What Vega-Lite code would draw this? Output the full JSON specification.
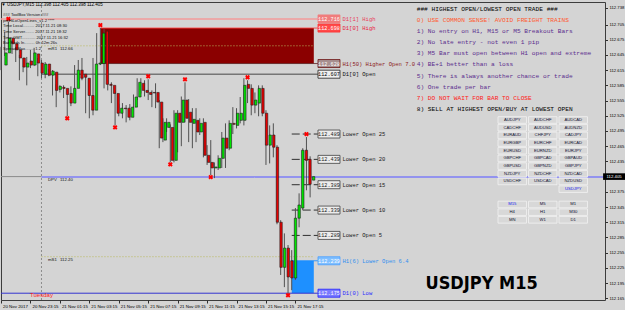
{
"$schema":"https://vega.github.io/schema/vega-lite/v6.json",
"width":604,"height":298,
"autosize":{"type":"none"},
"padding":{"left":1,"top":2,"right":20,"bottom":10},
"background":"#d4d4d4",
"config":{"view":{"stroke":"#3c3c3c","strokeWidth":1},"text":{"font":"Liberation Sans"}},
"title":{"text":"▼ USDJPY,M15  112.398 112.405 112.398 112.405","anchor":"start","orient":"top","offset":-8,"fontSize":4.5,"fontWeight":"normal","font":"Liberation Sans","color":"#000000","baseline":"middle","dx":1},
"datasets":{
"candles":[
{"i":0,"o":112.625,"h":112.661,"l":112.615,"c":112.649},
{"i":1,"o":112.649,"h":112.690,"l":112.643,"c":112.678},
{"i":2,"o":112.678,"h":112.710,"l":112.659,"c":112.667},
{"i":3,"o":112.667,"h":112.674,"l":112.647,"c":112.655},
{"i":4,"o":112.655,"h":112.661,"l":112.631,"c":112.639},
{"i":5,"o":112.639,"h":112.645,"l":112.595,"c":112.621},
{"i":6,"o":112.621,"h":112.639,"l":112.611,"c":112.629},
{"i":7,"o":112.633,"h":112.641,"l":112.585,"c":112.625},
{"i":8,"o":112.625,"h":112.655,"l":112.619,"c":112.649},
{"i":9,"o":112.647,"h":112.659,"l":112.623,"c":112.629},
{"i":10,"o":112.629,"h":112.639,"l":112.603,"c":112.609},
{"i":11,"o":112.607,"h":112.635,"l":112.599,"c":112.627},
{"i":12,"o":112.627,"h":112.631,"l":112.599,"c":112.605},
{"i":13,"o":112.605,"h":112.617,"l":112.603,"c":112.613},
{"i":14,"o":112.611,"h":112.615,"l":112.565,"c":112.575},
{"i":15,"o":112.577,"h":112.587,"l":112.542,"c":112.583},
{"i":16,"o":112.581,"h":112.585,"l":112.571,"c":112.579},
{"i":17,"o":112.579,"h":112.585,"l":112.560,"c":112.567},
{"i":18,"o":112.569,"h":112.575,"l":112.524,"c":112.550},
{"i":19,"o":112.550,"h":112.583,"l":112.544,"c":112.579},
{"i":20,"o":112.579,"h":112.625,"l":112.575,"c":112.615},
{"i":21,"o":112.615,"h":112.635,"l":112.595,"c":112.599},
{"i":22,"o":112.607,"h":112.639,"l":112.595,"c":112.601},
{"i":23,"o":112.599,"h":112.603,"l":112.530,"c":112.565},
{"i":24,"o":112.565,"h":112.575,"l":112.520,"c":112.536},
{"i":25,"o":112.536,"h":112.639,"l":112.526,"c":112.627},
{"i":26,"o":112.627,"h":112.688,"l":112.615,"c":112.629},
{"i":27,"o":112.628,"h":112.698,"l":112.625,"c":112.688},
{"i":28,"o":112.692,"h":112.696,"l":112.579,"c":112.587},
{"i":29,"o":112.587,"h":112.595,"l":112.575,"c":112.585},
{"i":30,"o":112.585,"h":112.591,"l":112.550,"c":112.569},
{"i":31,"o":112.569,"h":112.575,"l":112.506,"c":112.530},
{"i":32,"o":112.530,"h":112.548,"l":112.524,"c":112.540},
{"i":33,"o":112.540,"h":112.550,"l":112.520,"c":112.539},
{"i":34,"o":112.540,"h":112.546,"l":112.512,"c":112.522},
{"i":35,"o":112.522,"h":112.548,"l":112.516,"c":112.542},
{"i":36,"o":112.542,"h":112.567,"l":112.536,"c":112.562},
{"i":37,"o":112.562,"h":112.599,"l":112.556,"c":112.591},
{"i":38,"o":112.589,"h":112.599,"l":112.569,"c":112.575},
{"i":39,"o":112.575,"h":112.595,"l":112.563,"c":112.571},
{"i":40,"o":112.571,"h":112.597,"l":112.556,"c":112.567},
{"i":41,"o":112.571,"h":112.575,"l":112.542,"c":112.570},
{"i":42,"o":112.571,"h":112.589,"l":112.540,"c":112.552},
{"i":43,"o":112.552,"h":112.556,"l":112.461,"c":112.481},
{"i":44,"o":112.477,"h":112.520,"l":112.473,"c":112.512},
{"i":45,"o":112.502,"h":112.520,"l":112.493,"c":112.512},
{"i":46,"o":112.502,"h":112.508,"l":112.433,"c":112.437},
{"i":47,"o":112.437,"h":112.536,"l":112.433,"c":112.530},
{"i":48,"o":112.530,"h":112.536,"l":112.453,"c":112.512},
{"i":49,"o":112.512,"h":112.563,"l":112.465,"c":112.556},
{"i":50,"o":112.556,"h":112.591,"l":112.512,"c":112.520},
{"i":51,"o":112.532,"h":112.558,"l":112.473,"c":112.512},
{"i":52,"o":112.510,"h":112.540,"l":112.461,"c":112.518},
{"i":53,"o":112.516,"h":112.540,"l":112.473,"c":112.493},
{"i":54,"o":112.493,"h":112.520,"l":112.487,"c":112.510},
{"i":55,"o":112.512,"h":112.520,"l":112.443,"c":112.447},
{"i":56,"o":112.447,"h":112.467,"l":112.428,"c":112.433},
{"i":57,"o":112.433,"h":112.477,"l":112.408,"c":112.422},
{"i":58,"o":112.422,"h":112.433,"l":112.402,"c":112.424},
{"i":59,"o":112.422,"h":112.447,"l":112.418,"c":112.441},
{"i":60,"o":112.441,"h":112.493,"l":112.422,"c":112.481},
{"i":61,"o":112.481,"h":112.510,"l":112.422,"c":112.461},
{"i":62,"o":112.461,"h":112.516,"l":112.457,"c":112.510},
{"i":63,"o":112.510,"h":112.542,"l":112.489,"c":112.508},
{"i":64,"o":112.506,"h":112.540,"l":112.500,"c":112.530},
{"i":65,"o":112.516,"h":112.562,"l":112.510,"c":112.530},
{"i":66,"o":112.516,"h":112.599,"l":112.506,"c":112.585},
{"i":67,"o":112.587,"h":112.595,"l":112.550,"c":112.579},
{"i":68,"o":112.579,"h":112.587,"l":112.526,"c":112.546},
{"i":69,"o":112.546,"h":112.571,"l":112.530,"c":112.556},
{"i":70,"o":112.550,"h":112.585,"l":112.524,"c":112.579},
{"i":71,"o":112.579,"h":112.585,"l":112.524,"c":112.530},
{"i":72,"o":112.530,"h":112.536,"l":112.428,"c":112.467},
{"i":73,"o":112.467,"h":112.506,"l":112.431,"c":112.487},
{"i":74,"o":112.487,"h":112.510,"l":112.443,"c":112.463},
{"i":75,"o":112.463,"h":112.467,"l":112.311,"c":112.315},
{"i":76,"o":112.315,"h":112.319,"l":112.211,"c":112.226},
{"i":77,"o":112.226,"h":112.293,"l":112.187,"c":112.264},
{"i":78,"o":112.264,"h":112.270,"l":112.175,"c":112.207},
{"i":79,"o":112.239,"h":112.260,"l":112.181,"c":112.205},
{"i":80,"o":112.205,"h":112.343,"l":112.201,"c":112.323},
{"i":81,"o":112.323,"h":112.372,"l":112.305,"c":112.349},
{"i":82,"o":112.343,"h":112.461,"l":112.339,"c":112.457},
{"i":83,"o":112.457,"h":112.483,"l":112.378,"c":112.437},
{"i":84,"o":112.439,"h":112.445,"l":112.364,"c":112.390},
{"i":85,"o":112.398,"h":112.405,"l":112.398,"c":112.405}
],
"fractals":[
{"i":2,"p":112.710,"t":"up"},{"i":18,"p":112.524,"t":"dn"},{"i":27,"p":112.698,"t":"up"},{"i":31,"p":112.506,"t":"dn"},
{"i":40,"p":112.597,"t":"up"},{"i":46,"p":112.433,"t":"dn"},{"i":50,"p":112.591,"t":"up"},{"i":57,"p":112.408,"t":"dn"},
{"i":67,"p":112.595,"t":"up"},{"i":78,"p":112.175,"t":"dn"},{"i":83,"p":112.483,"t":"up"}
],
"zones":[{"z":"hi","from":27,"to":85,"lo":112.628,"hi":112.698},{"z":"lo","from":79,"to":85,"lo":112.175,"hi":112.239}],
"segments":[
{"k":"dpvPrev","name":"","p":112.405,"from":0,"to":11},
{"k":"dpv","name":"DPV","p":112.404,"from":11,"to":164.13},
{"k":"mR1","name":"mR1","p":112.663,"from":11,"to":85},
{"k":"mS1","name":"mS1","p":112.247,"from":11,"to":85}
],
"levels":[
{"k":"d1h1","p":112.716,"from":0,"label":"D1[1] High"},
{"k":"d1h0","p":112.698,"from":27,"label":"D1[0] High"},
{"k":"h1hi","p":112.628,"from":27,"label":"H1(50) Higher Open 7.0"},
{"k":"d1o","p":112.607,"from":11,"label":"D1[0] Open"},
{"k":"lo25","p":112.489,"from":79,"label":"Lower Open 25"},
{"k":"lo20","p":112.439,"from":79,"label":"Lower Open 20"},
{"k":"lo15","p":112.389,"from":79,"label":"Lower Open 15"},
{"k":"lo10","p":112.339,"from":79,"label":"Lower Open 10"},
{"k":"lo5","p":112.289,"from":79,"label":"Lower Open 5"},
{"k":"h1lo","p":112.239,"from":79,"label":"H1(6) Lower Open 6.4"},
{"k":"d1l","p":112.175,"from":0,"label":"D1(0) Low"}
],
"rules":[
{"n":0,"text":"### HIGHEST OPEN/LOWEST OPEN TRADE ###","kind":"head"},
{"n":1,"text":"0) USE COMMON SENSE!  AVOID FREIGHT TRAINS","kind":"warn"},
{"n":2,"text":"1) No entry on H1, M15 or M5 Breakout Bars","kind":"rule"},
{"n":3,"text":"2) No late entry - not even 1 pip","kind":"rule"},
{"n":4,"text":"3) M5 Bar must open between H1 open and extreme","kind":"rule"},
{"n":5,"text":"4) BE+1 better than a loss","kind":"rule"},
{"n":6,"text":"5) There is always another chance or trade","kind":"rule"},
{"n":7,"text":"6) One trade per bar","kind":"rule"},
{"n":8,"text":"7) DO NOT WAIT FOR BAR TO CLOSE","kind":"alert"},
{"n":9,"text":"8) SELL AT HIGHEST OPEN/BUY AT LOWEST OPEN","kind":"head"}
],
"info":[
{"n":0,"text":"### ToolBox Version ###"},
{"n":1,"text":"pmHiLoOpenLines_v1.2 ****"},
{"n":2,"text":"Time Local.......... 2017.11.21 08:30"},
{"n":3,"text":"Time Server........ 2017.11.21 18:32"},
{"n":4,"text":"Time GMT............ 2017.11.21 16:32"},
{"n":5,"text":"Bar Ends In......... 0h 12m 26s"},
{"n":6,"text":"Spread Max........ 1.2"}
],
"buttons":[
{"label":"AUDJPY","col":1,"row":0,"sel":false},{"label":"AUDCHF","col":2,"row":0,"sel":false},{"label":"AUDCAD","col":3,"row":0,"sel":false},
{"label":"CADCHF","col":1,"row":1,"sel":false},{"label":"AUDUSD","col":2,"row":1,"sel":false},{"label":"AUDNZD","col":3,"row":1,"sel":false},
{"label":"EURAUD","col":1,"row":2,"sel":false},{"label":"CHFJPY","col":2,"row":2,"sel":false},{"label":"CADJPY","col":3,"row":2,"sel":false},
{"label":"EURGBP","col":1,"row":3,"sel":false},{"label":"EURCHF","col":2,"row":3,"sel":false},{"label":"EURCAD","col":3,"row":3,"sel":false},
{"label":"EURUSD","col":1,"row":4,"sel":false},{"label":"EURNZD","col":2,"row":4,"sel":false},{"label":"EURJPY","col":3,"row":4,"sel":false},
{"label":"GBPCHF","col":1,"row":5,"sel":false},{"label":"GBPCAD","col":2,"row":5,"sel":false},{"label":"GBPAUD","col":3,"row":5,"sel":false},
{"label":"GBPUSD","col":1,"row":6,"sel":false},{"label":"GBPNZD","col":2,"row":6,"sel":false},{"label":"GBPJPY","col":3,"row":6,"sel":false},
{"label":"NZDJPY","col":1,"row":7,"sel":false},{"label":"NZDCHF","col":2,"row":7,"sel":false},{"label":"NZDCAD","col":3,"row":7,"sel":false},
{"label":"USDCHF","col":1,"row":8,"sel":false},{"label":"USDCAD","col":2,"row":8,"sel":false},{"label":"NZDUSD","col":3,"row":8,"sel":false},
{"label":"USDJPY","col":3,"row":9,"sel":true},
{"label":"M15","col":1,"row":11,"sel":true},{"label":"M5","col":2,"row":11,"sel":false},{"label":"M1","col":3,"row":11,"sel":false},
{"label":"H4","col":1,"row":12,"sel":false},{"label":"H1","col":2,"row":12,"sel":false},{"label":"M30","col":3,"row":12,"sel":false},
{"label":"MN","col":1,"row":13,"sel":false},{"label":"W1","col":2,"row":13,"sel":false},{"label":"D1","col":3,"row":13,"sel":false}
]
},
"layer":[
{"data":{"values":[{}]},"mark":{"type":"rule","stroke":"#8c8c8c","strokeDash":[2,2],"strokeWidth":1},
 "encoding":{"x":{"datum":11,"type":"quantitative","scale":{"domain":[0,164.13],"nice":false,"zero":false},"axis":null}}},
{"data":{"name":"zones"},"mark":{"type":"rect"},
 "encoding":{"x":{"field":"from","type":"quantitative","scale":{"domain":[0,164.13],"nice":false,"zero":false},"axis":null},"x2":{"field":"to"},
 "y":{"field":"lo","type":"quantitative","scale":{"domain":[112.1616,112.7494],"nice":false,"zero":false},"axis":null},"y2":{"field":"hi"},
 "fill":{"field":"z","type":"nominal","scale":{"domain":["hi","lo"],"range":["#8b0000","#1e90ff"]},"legend":null}}},
{"data":{"name":"segments"},"mark":{"type":"rule"},
 "encoding":{"x":{"field":"from","type":"quantitative","scale":{"domain":[0,164.13],"nice":false,"zero":false},"axis":null},"x2":{"field":"to"},
 "y":{"field":"p","type":"quantitative","scale":{"domain":[112.1616,112.7494],"nice":false,"zero":false},"axis":null},
 "stroke":{"field":"k","type":"nominal","scale":{"domain":["dpvPrev","dpv","mR1","mS1"],"range":["#8a8a8a","#9393ee","#b8b85c","#b8b85c"]},"legend":null},
 "strokeWidth":{"condition":{"test":"datum.k==='dpv'","value":2},"value":1},
 "strokeDash":{"condition":{"test":"datum.k==='mR1'||datum.k==='mS1'","value":[1,2]},"value":[1,0]}}},
{"data":{"name":"levels"},"mark":{"type":"rule"},
 "encoding":{"x":{"field":"from","type":"quantitative","scale":{"domain":[0,164.13],"nice":false,"zero":false},"axis":null},"x2":{"datum":86.1},
 "y":{"field":"p","type":"quantitative","scale":{"domain":[112.1616,112.7494],"nice":false,"zero":false},"axis":null},
 "stroke":{"field":"k","type":"nominal","scale":{"domain":["d1h1","d1h0","h1hi","d1o","lo25","lo20","lo15","lo10","lo5","h1lo","d1l"],"range":["#f29a9a","#ff4040","#5a2020","#303030","#303030","#303030","#303030","#303030","#303030","#1e90ff","#3535d0"]},"legend":null},
 "strokeWidth":{"condition":{"test":"datum.k==='d1h1'","value":1.5},"value":1},
 "strokeDash":{"condition":{"test":"indexof(datum.k,'lo')===0","value":[8,3]},"value":[1,0]}}},
{"data":{"name":"candles"},"mark":{"type":"rule","stroke":"#505050","strokeWidth":1},
 "encoding":{"x":{"field":"i","type":"quantitative","scale":{"domain":[0,164.13],"nice":false,"zero":false},
   "axis":{"orient":"bottom","values":[0,8,16,24,32,40,48,56,64,72,80],"labelExpr":"['20 Nov 2017','20 Nov 23:15','21 Nov 01:15','21 Nov 03:15','21 Nov 05:15','21 Nov 07:15','21 Nov 09:15','21 Nov 11:15','21 Nov 13:15','21 Nov 15:15','21 Nov 17:15'][round(datum.value/8)]","labelAlign":"left","labelOffset":1.5,"labelPadding":1,"labelFontSize":4.4,"labelFont":"Liberation Sans","labelColor":"#000000","tickSize":3,"tickColor":"#303030","domain":false,"grid":false,"title":null,"labelBound":false,"labelOverlap":false,"labelFlush":false}},
 "y":{"field":"l","type":"quantitative","scale":{"domain":[112.1616,112.7494],"nice":false,"zero":false},
   "axis":{"orient":"right","values":[112.165,112.195,112.225,112.255,112.285,112.315,112.345,112.375,112.435,112.465,112.495,112.525,112.555,112.585,112.615,112.645,112.675,112.705,112.738],"format":".3f","labelFontSize":4.2,"labelFont":"Liberation Sans","labelColor":"#000000","labelPadding":1.5,"tickSize":2.5,"tickColor":"#303030","domain":false,"grid":false,"title":null,"labelOverlap":false,"labelBound":false,"labelFlush":false}},
 "y2":{"field":"h"}}},
{"data":{"name":"candles"},"mark":{"type":"bar","width":2.4,"stroke":"#1e1e1e","strokeWidth":0.6},
 "encoding":{"x":{"field":"i","type":"quantitative","scale":{"domain":[0,164.13],"nice":false,"zero":false},"axis":null},
 "y":{"field":"o","type":"quantitative","scale":{"domain":[112.1616,112.7494],"nice":false,"zero":false},"axis":null},"y2":{"field":"c"},
 "fill":{"condition":{"test":"datum.c>=datum.o","value":"#00e600"},"value":"#e80000"}}},
{"data":{"name":"fractals"},"transform":[{"filter":"datum.t==='up'"}],"mark":{"type":"point","shape":"cross","angle":45,"size":24,"filled":true,"fill":"#ff0000","opacity":1,"yOffset":-3},
 "encoding":{"x":{"field":"i","type":"quantitative","scale":{"domain":[0,164.13],"nice":false,"zero":false},"axis":null},
 "y":{"field":"p","type":"quantitative","scale":{"domain":[112.1616,112.7494],"nice":false,"zero":false},"axis":null}}},
{"data":{"name":"fractals"},"transform":[{"filter":"datum.t==='dn'"}],"mark":{"type":"point","shape":"cross","angle":45,"size":24,"filled":true,"fill":"#ff0000","opacity":1,"yOffset":2},
 "encoding":{"x":{"field":"i","type":"quantitative","scale":{"domain":[0,164.13],"nice":false,"zero":false},"axis":null},
 "y":{"field":"p","type":"quantitative","scale":{"domain":[112.1616,112.7494],"nice":false,"zero":false},"axis":null}}},
{"data":{"name":"levels"},"mark":{"type":"point","shape":"M-1,-0.3636H1V0.3636H-1Z","size":484,"filled":true,"opacity":1,"strokeWidth":0.8},
 "encoding":{"x":{"datum":89.13,"type":"quantitative","scale":{"domain":[0,164.13],"nice":false,"zero":false},"axis":null},
 "y":{"field":"p","type":"quantitative","scale":{"domain":[112.1616,112.7494],"nice":false,"zero":false},"axis":null},
 "fill":{"field":"k","type":"nominal","scale":{"domain":["d1h1","d1h0","h1hi","d1o","lo25","lo20","lo15","lo10","lo5","h1lo","d1l"],"range":["#f07c7c","#ff4a4a","#a89090","#f0f0f0","#ececec","#ececec","#ececec","#ececec","#ececec","#80bfff","#7a7aff"]},"legend":null},
 "stroke":{"field":"k","type":"nominal","scale":{"domain":["d1h1","d1h0","h1hi","d1o","lo25","lo20","lo15","lo10","lo5","h1lo","d1l"],"range":["#f07c7c","#ff3030","#6a1010","#202020","#404040","#404040","#404040","#404040","#404040","#4aa0ff","#2020ff"]},"legend":null}}},
{"data":{"name":"levels"},"mark":{"type":"text","font":"Liberation Mono","fontSize":5.2,"baseline":"middle","align":"center"},
 "encoding":{"x":{"datum":89.13,"type":"quantitative","scale":{"domain":[0,164.13],"nice":false,"zero":false},"axis":null},
 "y":{"field":"p","type":"quantitative","scale":{"domain":[112.1616,112.7494],"nice":false,"zero":false},"axis":null},
 "text":{"field":"p","type":"quantitative","format":".3f"},
 "color":{"field":"k","type":"nominal","scale":{"domain":["d1h1","d1h0","h1hi","d1o","lo25","lo20","lo15","lo10","lo5","h1lo","d1l"],"range":["#ffffff","#ffffff","#ffffff","#000000","#202020","#202020","#202020","#202020","#202020","#ffffff","#ffffff"]},"legend":null}}},
{"data":{"name":"levels"},"mark":{"type":"text","font":"Liberation Mono","fontSize":5.5,"baseline":"middle","align":"left"},
 "encoding":{"x":{"datum":92.8,"type":"quantitative","scale":{"domain":[0,164.13],"nice":false,"zero":false},"axis":null},
 "y":{"field":"p","type":"quantitative","scale":{"domain":[112.1616,112.7494],"nice":false,"zero":false},"axis":null},
 "text":{"field":"label"},
 "color":{"field":"k","type":"nominal","scale":{"domain":["d1h1","d1h0","h1hi","d1o","lo25","lo20","lo15","lo10","lo5","h1lo","d1l"],"range":["#e8405a","#e8203c","#8b1a1a","#101010","#202020","#202020","#202020","#202020","#202020","#2f8ef0","#2a2aff"]},"legend":null}}},
{"data":{"name":"segments"},"transform":[{"filter":"datum.k!=='dpvPrev'"}],"mark":{"type":"text","fontSize":4.3,"baseline":"middle","align":"left","dy":3,"color":"#101010"},
 "encoding":{"x":{"datum":12.77,"type":"quantitative","scale":{"domain":[0,164.13],"nice":false,"zero":false},"axis":null},
 "y":{"field":"p","type":"quantitative","scale":{"domain":[112.1616,112.7494],"nice":false,"zero":false},"axis":null},
 "text":{"field":"name"}}},
{"data":{"name":"segments"},"transform":[{"filter":"datum.k!=='dpvPrev'"}],"mark":{"type":"text","fontSize":4.3,"baseline":"middle","align":"left","dy":3,"dx":12,"color":"#101010"},
 "encoding":{"x":{"datum":12.77,"type":"quantitative","scale":{"domain":[0,164.13],"nice":false,"zero":false},"axis":null},
 "y":{"field":"p","type":"quantitative","scale":{"domain":[112.1616,112.7494],"nice":false,"zero":false},"axis":null},
 "text":{"field":"p","type":"quantitative","format":".2f"}}},
{"data":{"values":[{"day":"Tuesday","i":11}]},"mark":{"type":"text","fontSize":6,"baseline":"middle","align":"center","color":"#ff2020"},
 "encoding":{"x":{"field":"i","type":"quantitative","scale":{"domain":[0,164.13],"nice":false,"zero":false},"axis":null},
 "y":{"datum":112.1715,"type":"quantitative","scale":{"domain":[112.1616,112.7494],"nice":false,"zero":false},"axis":null},
 "text":{"field":"day"}}},
{"data":{"values":[{"sym":"USDJPY M15"}]},"mark":{"type":"text","font":"Liberation Sans Narrow, DejaVu Sans Condensed, sans-serif","fontWeight":"bold","fontSize":18,"baseline":"middle","align":"center","color":"#000000"},
 "encoding":{"x":{"datum":130.6,"type":"quantitative","scale":{"domain":[0,164.13],"nice":false,"zero":false},"axis":null},
 "y":{"datum":112.194,"type":"quantitative","scale":{"domain":[112.1616,112.7494],"nice":false,"zero":false},"axis":null},
 "text":{"field":"sym"}}},
{"data":{"name":"candles"},"transform":[{"filter":"datum.i===85"}],"mark":{"type":"point","shape":"M-1,-0.3H1V0.3H-1Z","size":484,"filled":true,"fill":"#000000","opacity":1},
 "encoding":{"x":{"datum":166.6,"type":"quantitative","scale":{"domain":[0,164.13],"nice":false,"zero":false},"axis":null},
 "y":{"field":"c","type":"quantitative","scale":{"domain":[112.1616,112.7494],"nice":false,"zero":false},"axis":null}}},
{"data":{"name":"candles"},"transform":[{"filter":"datum.i===85"}],"mark":{"type":"text","fontSize":4.3,"baseline":"middle","align":"center","color":"#ffffff"},
 "encoding":{"x":{"datum":166.6,"type":"quantitative","scale":{"domain":[0,164.13],"nice":false,"zero":false},"axis":null},
 "y":{"field":"c","type":"quantitative","scale":{"domain":[112.1616,112.7494],"nice":false,"zero":false},"axis":null},
 "text":{"field":"c","type":"quantitative","format":".3f"}}},
{"data":{"name":"rules"},"mark":{"type":"text","align":"left","baseline":"middle","font":"Liberation Mono","fontSize":6.2},
 "encoding":{"x":{"datum":0,"type":"quantitative","scale":{"domain":[-109.39,49.56],"nice":false,"zero":false},"axis":null},
 "y":{"field":"n","type":"quantitative","scale":{"domain":[-0.6612,26.332],"reverse":true,"nice":false,"zero":false},"axis":null},
 "text":{"field":"text"},
 "color":{"field":"kind","type":"nominal","scale":{"domain":["head","warn","rule","alert"],"range":["#000000","#ff5a30","#5b2d8e","#ff1a1a"]},"legend":null}}},
{"data":{"name":"info"},"mark":{"type":"text","align":"left","baseline":"middle","font":"Liberation Sans","fontSize":4.1,"color":"#101010"},
 "encoding":{"x":{"datum":0,"type":"quantitative","scale":{"domain":[-2,602],"nice":false,"zero":false},"axis":null},
 "y":{"field":"n","type":"quantitative","scale":{"domain":[-2.293,50.264],"reverse":true,"nice":false,"zero":false},"axis":null},
 "text":{"field":"text"}}},
{"data":{"name":"buttons"},"mark":{"type":"point","shape":"M-1,-0.2316H1V0.2316H-1Z","size":812,"filled":true,"fill":"#d8d8d8","stroke":"#f2f2f2","strokeWidth":0.8,"opacity":1},
 "encoding":{"x":{"field":"col","type":"quantitative","scale":{"domain":[-15.762,4.041],"nice":false,"zero":false},"axis":null},
 "y":{"field":"row","type":"quantitative","scale":{"domain":[-15.365,23.437],"reverse":true,"nice":false,"zero":false},"axis":null}}},
{"data":{"name":"buttons"},"mark":{"type":"text","fontSize":4.2,"baseline":"middle","align":"center"},
 "encoding":{"x":{"field":"col","type":"quantitative","scale":{"domain":[-15.762,4.041],"nice":false,"zero":false},"axis":null},
 "y":{"field":"row","type":"quantitative","scale":{"domain":[-15.365,23.437],"reverse":true,"nice":false,"zero":false},"axis":null},
 "text":{"field":"label"},"color":{"condition":{"test":"datum.sel","value":"#2222ee"},"value":"#101030"}}}
],
"resolve":{"scale":{"x":"independent","y":"independent","color":"independent","fill":"independent","stroke":"independent"}}
}
